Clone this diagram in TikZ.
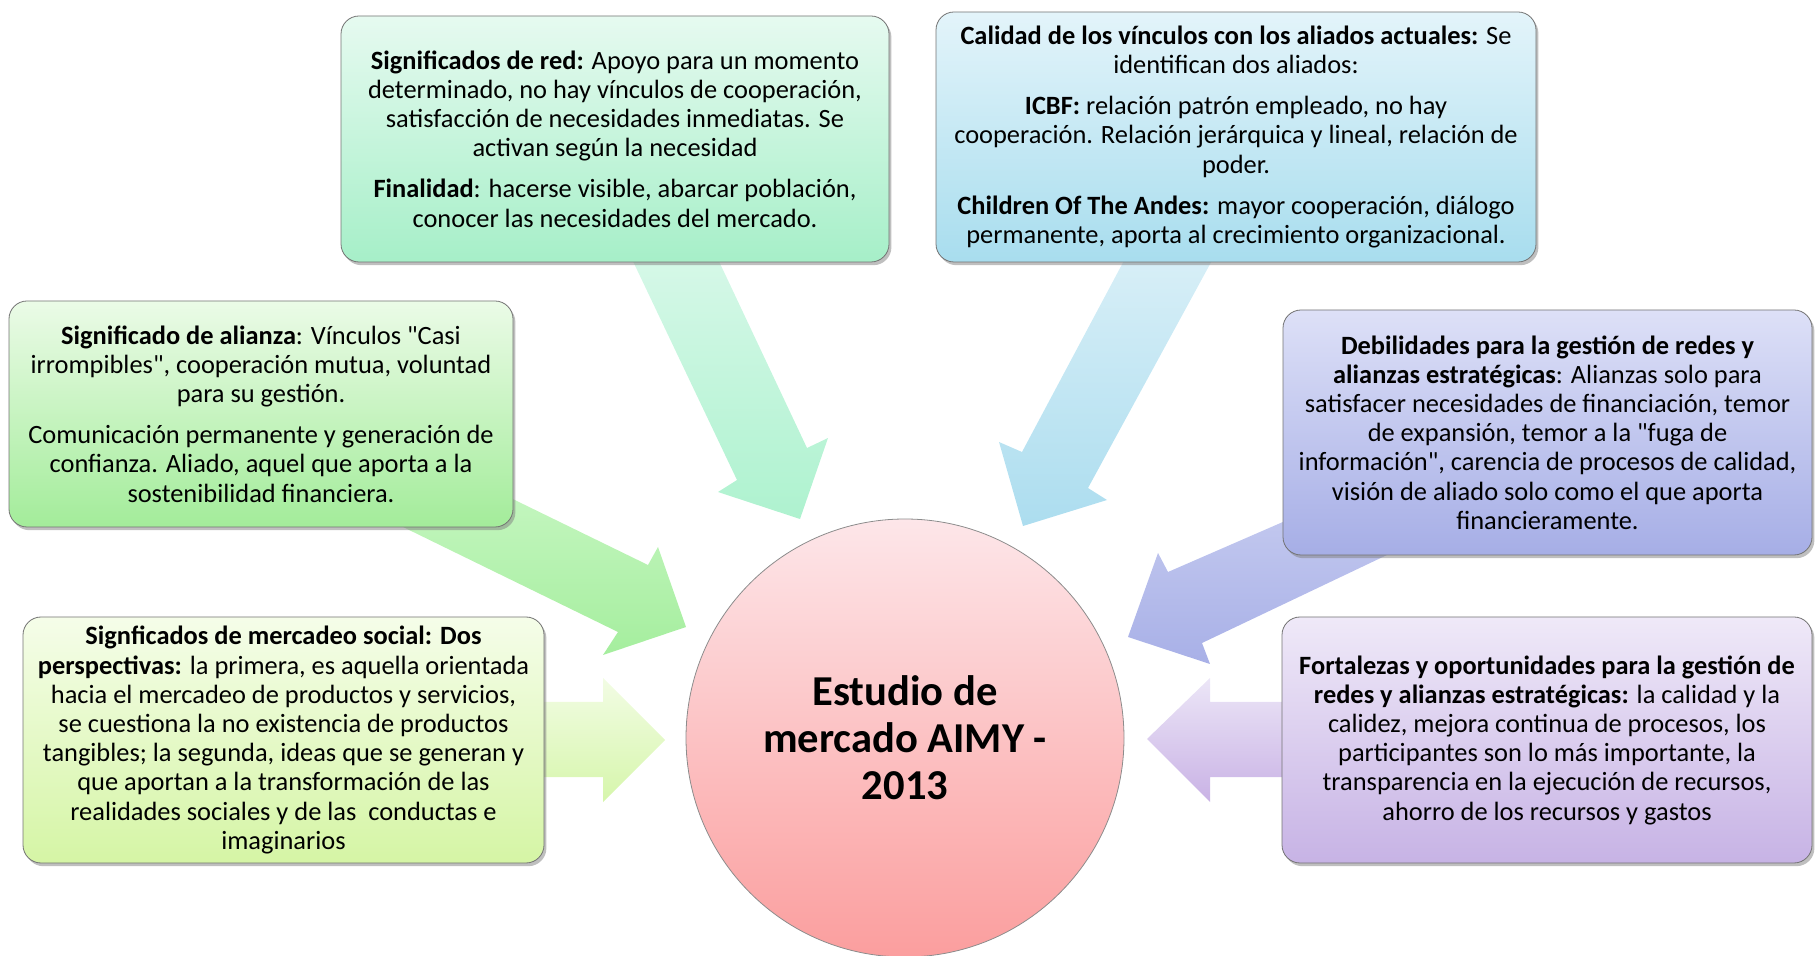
\documentclass[tikz,border=0pt]{standalone}
\usepackage{fontspec}
\setmainfont{Carlito}
\usetikzlibrary{shadows}

\definecolor{redtop}{HTML}{E6FAF0}\definecolor{redbot}{HTML}{A6EFC8}
\definecolor{caltop}{HTML}{E3F4FA}\definecolor{calbot}{HTML}{A8DDEE}
\definecolor{alitop}{HTML}{EBFBE7}\definecolor{alibot}{HTML}{A3EC9A}
\definecolor{debtop}{HTML}{DDE0F7}\definecolor{debbot}{HTML}{A6AEE6}
\definecolor{mertop}{HTML}{F5FDE9}\definecolor{merbot}{HTML}{D5F5A5}
\definecolor{fortop}{HTML}{EFE9F8}\definecolor{forbot}{HTML}{C7B3E5}
\definecolor{hubtop}{HTML}{FDE6E9}\definecolor{hubbot}{HTML}{FB9E9E}
\definecolor{arrAtop}{HTML}{D6F8E8}\definecolor{arrAbot}{HTML}{AEF2CF}
\definecolor{arrBtop}{HTML}{D8EFF7}\definecolor{arrBbot}{HTML}{ACDDEF}
\definecolor{arrCtop}{HTML}{CDF8C9}\definecolor{arrCbot}{HTML}{A5EE9E}
\definecolor{arrDtop}{HTML}{CACFF1}\definecolor{arrDbot}{HTML}{A8B0E7}
\definecolor{arrEtop}{HTML}{F2FCE4}\definecolor{arrEbot}{HTML}{D6F6AB}
\definecolor{arrFtop}{HTML}{ECE6F7}\definecolor{arrFbot}{HTML}{C9B2E5}

\begin{document}
\begin{tikzpicture}[x=0.5pt,y=-0.5pt,
    infobox/.style={draw=black!55,rounded corners=9pt,align=center,inner sep=2pt,
      font=\fontsize{13.2}{14.6}\selectfont,
      drop shadow={shadow xshift=1.2pt,shadow yshift=-1.6pt,opacity=0.5}},
    hub/.style={circle,draw=black!45,minimum size=219pt,align=center,
      top color=hubtop,bottom color=hubbot,
      font=\fontsize{21.3}{23.5}\selectfont\bfseries},
    blockarrow/.style={draw=none}]
    \useasboundingbox (0,0) rectangle (1816,956);

    \path[blockarrow,top color=arrAtop,bottom color=arrAbot]
        (630,255) -- (716,255) -- (807,448) -- (828,438) -- (800,519) -- (718,492) -- (737,480) -- cycle;
    \path[blockarrow,top color=arrBtop,bottom color=arrBbot]
        (1127,255) -- (1215,255) -- (1088,488) -- (1107,500) -- (1023,526) -- (999,442) -- (1022,452) -- cycle;
    \path[blockarrow,top color=arrCtop,bottom color=arrCbot]
        (400,444) -- (648,565) -- (658,547) -- (686,627) -- (603,655) -- (618,632) -- (360,506) -- cycle;
    \path[blockarrow,top color=arrDtop,bottom color=arrDbot]
        (1400,471) -- (1168,572) -- (1158,553) -- (1128,637) -- (1210,664) -- (1202,643) -- (1450,525) -- cycle;
    \path[blockarrow,top color=arrEtop,bottom color=arrEbot]
        (540,702) -- (603,702) -- (603,678) -- (665,740) -- (603,802) -- (603,777) -- (540,777) -- cycle;
    \path[blockarrow,top color=arrFtop,bottom color=arrFbot]
        (1290,702) -- (1210,702) -- (1210,678) -- (1147,739) -- (1210,802) -- (1210,777) -- (1290,777) -- cycle;

    \node[infobox,top color=redtop,bottom color=redbot,minimum width=274pt,minimum height=123pt] (red) at (615,139)
        {\textbf{Significados de red:} Apoyo para un momento\\
         determinado, no hay vínculos de cooperación,\\
         satisfacción de necesidades inmediatas. Se\\
         activan según la necesidad\\[6pt]
         \textbf{Finalidad}: hacerse visible, abarcar población,\\
         conocer las necesidades del mercado.};

    \node[infobox,top color=caltop,bottom color=calbot,minimum width=300pt,minimum height=125pt] (calidad) at (1236,137)
        {\textbf{Calidad de los vínculos con los aliados actuales:} Se\\
         identifican dos aliados:\\[6pt]
         \textbf{ICBF:} relación patrón empleado, no hay\\
         cooperación. Relación jerárquica y lineal, relación de\\
         poder.\\[6pt]
         \textbf{Children Of The Andes:} mayor cooperación, diálogo\\
         permanente, aporta al crecimiento organizacional.};

    \node[infobox,top color=alitop,bottom color=alibot,minimum width=252pt,minimum height=113pt] (alianza) at (261,414)
        {\textbf{Significado de alianza}: Vínculos \textquotedbl Casi\\
         irrompibles\textquotedbl, cooperación mutua, voluntad\\
         para su gestión.\\[6pt]
         Comunicación permanente y generación de\\
         confianza. Aliado, aquel que aporta a la\\
         sostenibilidad financiera.};

    \node[infobox,top color=debtop,bottom color=debbot,minimum width=264.5pt,minimum height=122.5pt] (debilidades) at (1547.5,432.5)
        {\textbf{Debilidades para la gestión de redes y}\\
         \textbf{alianzas estratégicas}: Alianzas solo para\\
         satisfacer necesidades de financiación, temor\\
         de expansión, temor a la \textquotedbl fuga de\\
         información\textquotedbl, carencia de procesos de calidad,\\
         visión de aliado solo como el que aporta\\
         financieramente.};

    \node[infobox,top color=mertop,bottom color=merbot,minimum width=260.5pt,minimum height=123pt] (mercadeo) at (283.5,740)
        {\textbf{Signficados de mercadeo social: Dos}\\
         \textbf{perspectivas:} la primera, es aquella orientada\\
         hacia el mercadeo de productos y servicios,\\
         se cuestiona la no existencia de productos\\
         tangibles; la segunda, ideas que se generan y\\
         que aportan a la transformación de las\\
         realidades sociales y de las\ \ conductas e\\
         imaginarios};

    \node[infobox,top color=fortop,bottom color=forbot,minimum width=265pt,minimum height=123pt] (fortalezas) at (1547,740)
        {\textbf{Fortalezas y oportunidades para la gestión de}\\
         \textbf{redes y alianzas estratégicas:} la calidad y la\\
         calidez, mejora continua de procesos, los\\
         participantes son lo más importante, la\\
         transparencia en la ejecución de recursos,\\
         ahorro de los recursos y gastos};

    \node[hub] (estudio) at (905,738) {Estudio de\\mercado AIMY -\\2013};
\end{tikzpicture}
\end{document}
